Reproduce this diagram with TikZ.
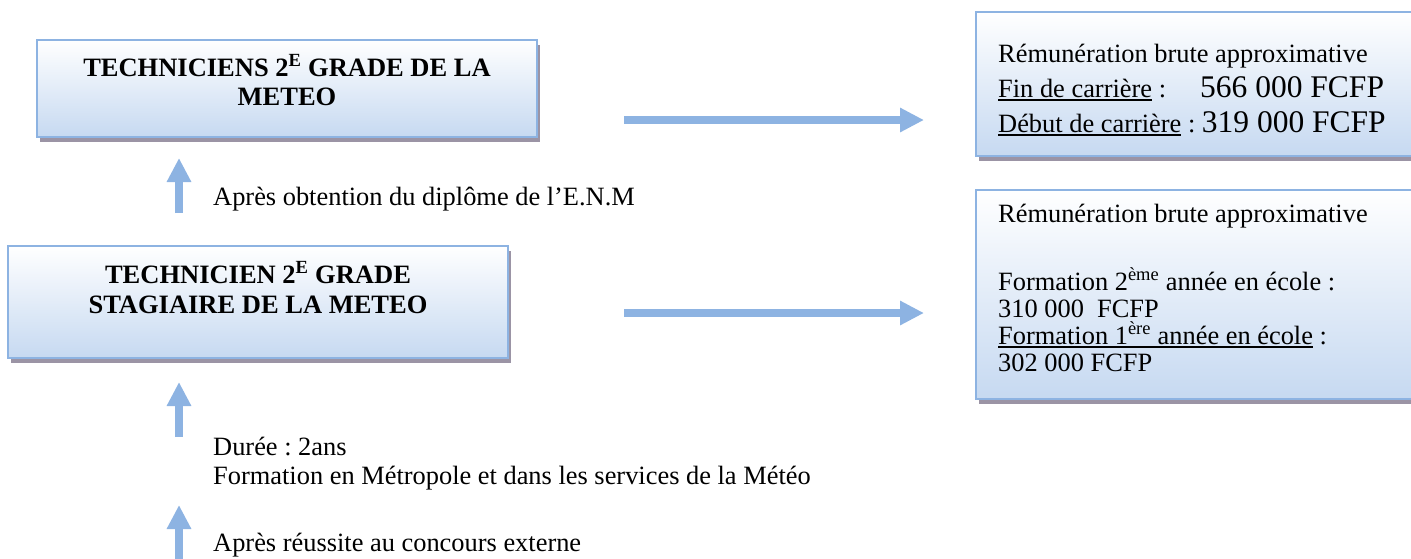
\documentclass[tikz,border=0pt]{standalone}
\usepackage{fontspec}
\setmainfont{Liberation Serif}
\usetikzlibrary{arrows.meta,shadows}
\definecolor{boxblue}{HTML}{C6D9F1}
\definecolor{edgeblue}{HTML}{8DB3E2}
\definecolor{shadowgrey}{RGB}{155,148,165}
\newcommand{\undl}[1]{\setbox0\hbox{#1}\rlap{\rule[-3.5pt]{\wd0}{1.6pt}}\box0\relax}
\frenchspacing
\begin{document}
\begin{tikzpicture}[x=1pt,y=-1pt,
  gradbox/.style={draw=edgeblue, line width=2pt, top color=white, bottom color=boxblue, inner sep=0pt,
    drop shadow={shadow xshift=3pt, shadow yshift=-5pt, fill=shadowgrey, opacity=1}},
  titletxt/.style={anchor=base, inner sep=0pt, font=\fontsize{26.5}{29.5}\selectfont\bfseries},
  bodytxt/.style={anchor=base west, inner sep=0pt, font=\fontsize{26.4}{27}\selectfont},
  flow/.style={draw=edgeblue, line width=7.5pt, -{Triangle[width=23pt,length=24pt]}}]
\useasboundingbox (0,0) rectangle (1411,558);
\node[gradbox, minimum width=500pt, minimum height=97pt] (tech) at (287,88.5){};
\node[gradbox, minimum width=500pt, minimum height=112pt] (stag) at (258,302){};
\node[gradbox, minimum width=444pt, minimum height=144pt] (salary) at (1198,84){};
\node[gradbox, minimum width=444pt, minimum height=209pt] (school) at (1198,294.5){};
\node[titletxt] (tech1) at (287,76){TECHNICIENS 2\textsuperscript{E} GRADE DE LA};
\node[titletxt] (tech2) at (287,105){METEO};
\node[titletxt] (stag1) at (258,283){TECHNICIEN 2\textsuperscript{E} GRADE};
\node[titletxt] (stag2) at (258,313){STAGIAIRE DE LA METEO};
\node[bodytxt] (sal1) at (998,62){Rémunération brute approximative};
\node[bodytxt] (sal2) at (998,97){\undl{Fin de carrière} :};
\node[bodytxt, font=\fontsize{31.5}{35}\selectfont] (sal2n) at (1200,97){566 000 FCFP};
\node[bodytxt] (sal3) at (998,132){\undl{Début de carrière} : {\fontsize{31.5}{35}\selectfont 319 000 FCFP}};
\node[bodytxt] (sch1) at (998,222){Rémunération brute approximative};
\node[bodytxt] (sch2) at (998,290){Formation 2\textsuperscript{ème} année en école :};
\node[bodytxt] (sch3) at (998,317){310 000\ \ FCFP};
\node[bodytxt] (sch4) at (998,344){\undl{Formation 1\textsuperscript{ère} année en école} :};
\node[bodytxt] (sch5) at (998,371){302 000 FCFP};
\node[bodytxt] (enm) at (213,205){Après obtention du diplôme de l’E.N.M};
\node[bodytxt] (duree) at (213,455){Durée : 2ans};
\node[bodytxt] (lieu) at (213,484){Formation en Métropole et dans les services de la Météo};
\node[bodytxt] (concours) at (213,551){Après réussite au concours externe};
\coordinate (up1a) at (179,213);
\coordinate (up1b) at (179,158);
\coordinate (up2a) at (179,437);
\coordinate (up2b) at (179,382);
\coordinate (up3a) at (179,575);
\coordinate (up3b) at (179,505);
\coordinate (h1a) at (624,120);
\coordinate (h1b) at (924,120);
\coordinate (h2a) at (624,313);
\coordinate (h2b) at (924,313);
\draw[flow](up1a) -- (up1b);
\draw[flow](up2a) -- (up2b);
\draw[flow](up3a) -- (up3b);
\draw[flow](h1a) -- (h1b);
\draw[flow](h2a) -- (h2b);
\end{tikzpicture}
\end{document}
